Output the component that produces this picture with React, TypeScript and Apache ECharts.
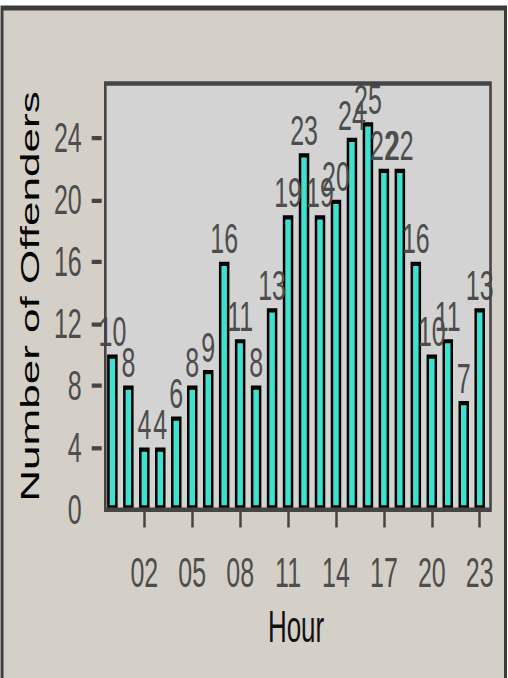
import React, { useEffect, useRef } from "react";
import * as echarts from "echarts";

const hours = [
  "00", "01", "02", "03", "04", "05", "06", "07", "08", "09", "10", "11",
  "12", "13", "14", "15", "16", "17", "18", "19", "20", "21", "22", "23",
];
const offenders = [10, 8, 4, 4, 6, 8, 9, 16, 11, 8, 13, 19, 23, 19, 20, 24, 25, 22, 22, 16, 10, 11, 7, 13];
const yLabelValues = [0, 4, 8, 12, 16, 20, 24];
const yTickValues = [4, 8, 12, 16, 20, 24];
const yMax = 27.5;

const W = 508;
const H = 400;
const SCALE_Y = 678 / H;

export default function App() {
  const ref = useRef<HTMLDivElement>(null);

  useEffect(() => {
    if (!ref.current) return;
    const chart = echarts.init(ref.current, undefined, { renderer: "svg" });
    const font = "Liberation Sans";
    const plot = { x: 105.3, y: 49.3, width: 385.2, height: 251.4 };
    const option: any = {
      animation: false,
      backgroundColor: "transparent",
      textStyle: { fontFamily: font },
      graphic: [
        {
          type: "rect",
          z: -100,
          silent: true,
          shape: { x: 2, y: 4.7, width: 503.5, height: 420 },
          style: { fill: "#d4d0c8", stroke: "#3c3c3c", lineWidth: 3 },
        },
        {
          type: "rect",
          z: -90,
          silent: true,
          shape: plot,
          style: { fill: "#d3d3d3" },
        },
        {
          type: "rect",
          z: 100,
          silent: true,
          shape: plot,
          style: { fill: "none", stroke: "#454545", lineWidth: 2.6 },
        },
      ],
      grid: { left: 104.4, top: 49.3, width: 383.3, height: 251.3 },
      xAxis: {
        type: "category",
        data: hours,
        offset: 4.4,
        axisLine: { show: false },
        axisTick: {
          show: true,
          alignWithLabel: true,
          interval: (i: number) => i % 3 === 2,
          length: 10.6,
          lineStyle: { color: "#454545", width: 2.5 },
        },
        axisLabel: {
          interval: (i: number) => i % 3 === 2,
          margin: 20,
          fontSize: 25,
          color: "#4d4d4d",
          fontFamily: font,
        },
        name: "Hour",
        nameLocation: "middle",
        nameGap: 52,
        nameTextStyle: { fontSize: 26, color: "#111", fontFamily: font },
      },
      yAxis: {
        type: "value",
        min: 0,
        max: yMax,
        interval: 4,
        offset: 2.7,
        splitLine: { show: false },
        axisLine: { show: false },
        axisTick: {
          show: true,
          length: 10,
          customValues: yTickValues,
          lineStyle: { color: "#454545", width: 2.5 },
        },
        axisLabel: {
          customValues: yLabelValues,
          margin: 20,
          fontSize: 25,
          color: "#4d4d4d",
          fontFamily: font,
        },
        name: "Number of Offenders",
        nameLocation: "middle",
        nameRotate: 90,
        nameGap: 51,
        nameTextStyle: { fontSize: 26, color: "#000", fontFamily: font },
      },
      series: [
        {
          type: "bar",
          data: offenders,
          barWidth: 10.5,
          itemStyle: { color: "#40e0d0", borderColor: "#000", borderWidth: 2.5 },
          label: {
            show: true,
            position: "top",
            distance: 1,
            fontSize: 25,
            color: "#4d4d4d",
            fontFamily: font,
          },
        },
      ],
    };
    chart.setOption(option);
    return () => chart.dispose();
  }, []);

  return (
    <div
      style={{
        position: "absolute",
        left: 0,
        top: 0,
        width: W,
        height: H,
        transform: `scaleY(${SCALE_Y})`,
        transformOrigin: "0 0",
      }}
    >
      <div ref={ref} style={{ width: W, height: H }} />
    </div>
  );
}
